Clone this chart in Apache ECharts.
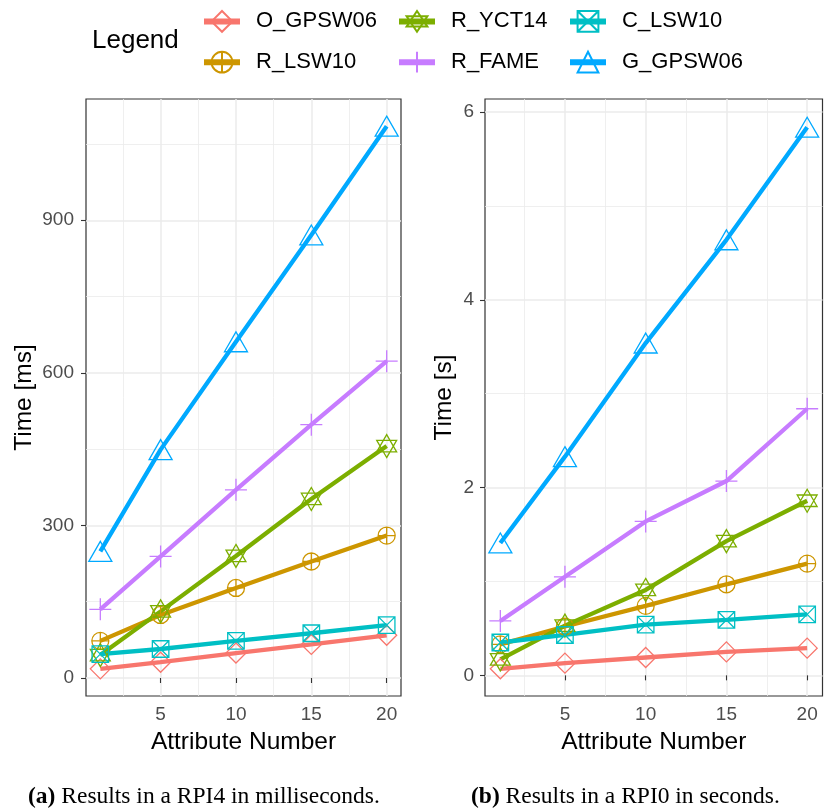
<!DOCTYPE html>
<html><head><meta charset="utf-8">
<script src="https://cdn.jsdelivr.net/npm/echarts@6/dist/echarts.min.js"></script>
<style>html,body{margin:0;padding:0;background:#fff}#c{width:824px;height:810px}</style>
</head><body><div id="c"></div>
<script>
// ---- data ----
const attributeNumbers = [1, 5, 10, 15, 20];
const seriesNames = ['O_GPSW06', 'R_LSW10', 'R_YCT14', 'R_FAME', 'C_LSW10', 'G_GPSW06'];
// (a) RPI4, milliseconds
const rpi4_O_GPSW06 = [18, 31, 49, 66, 84];
const rpi4_R_LSW10  = [73, 124, 177, 229, 280];
const rpi4_R_YCT14  = [45, 131, 240, 352, 456];
const rpi4_R_FAME   = [135, 239, 370, 498, 623];
const rpi4_C_LSW10  = [47, 57, 73, 88, 104];
const rpi4_G_GPSW06 = [249, 449, 661, 871, 1085];
// (b) RPI0, seconds
const rpi0_O_GPSW06 = [0.07, 0.13, 0.19, 0.25, 0.29];
const rpi0_R_LSW10  = [0.33, 0.52, 0.74, 0.97, 1.19];
const rpi0_R_YCT14  = [0.17, 0.53, 0.91, 1.43, 1.86];
const rpi0_R_FAME   = [0.58, 1.05, 1.64, 2.07, 2.84];
const rpi0_C_LSW10  = [0.35, 0.43, 0.54, 0.59, 0.65];
const rpi0_G_GPSW06 = [1.41, 2.33, 3.54, 4.64, 5.84];
// tick labels
const xTicks = [5, 10, 15, 20];
const yTicksMs = [0, 300, 600, 900];
const yTicksS = [0, 2, 4, 6];

const rpi4 = {O_GPSW06: rpi4_O_GPSW06, R_LSW10: rpi4_R_LSW10, R_YCT14: rpi4_R_YCT14, R_FAME: rpi4_R_FAME, C_LSW10: rpi4_C_LSW10, G_GPSW06: rpi4_G_GPSW06};
const rpi0 = {O_GPSW06: rpi0_O_GPSW06, R_LSW10: rpi0_R_LSW10, R_YCT14: rpi0_R_YCT14, R_FAME: rpi0_R_FAME, C_LSW10: rpi0_C_LSW10, G_GPSW06: rpi0_G_GPSW06};

// ---- styles ----
const FONT = 'Liberation Sans';
const style = {
  O_GPSW06: {color: '#F8766D', symbol: 'path://M0,-1L1,0L0,1L-1,0Z', size: 20},
  R_LSW10:  {color: '#CD9600', symbol: 'path://M-1,0A1,1,0,1,1,1,0A1,1,0,1,1,-1,0ZM-1,0L1,0M0,-1L0,1', size: 17},
  R_YCT14:  {color: '#7CAE00', symbol: 'path://M0,-1L0.866,0.5L-0.866,0.5ZM0,1L0.866,-0.5L-0.866,-0.5Z', size: 23},
  R_FAME:   {color: '#C77CFF', symbol: 'path://M-1,0L1,0M0,-1L0,1', size: 22},
  C_LSW10:  {color: '#00BFC4', symbol: 'path://M-1,-1L1,-1L1,1L-1,1ZM-1,-1L1,1M1,-1L-1,1', size: 16.5},
  G_GPSW06: {color: '#00A9FF', symbol: 'path://M0,-1L0.866,0.5L-0.866,0.5Z', size: 23}
};

function makeSeries(panel, idx) {
  return seriesNames.map(n => ({
    name: n, type: 'line', xAxisIndex: idx, yAxisIndex: idx,
    data: attributeNumbers.map((x, i) => [x, panel[n][i]]),
    symbol: style[n].symbol, symbolSize: style[n].size, symbolKeepAspect: true,
    showSymbol: true,
    lineStyle: {color: style[n].color, width: 4.3},
    itemStyle: {color: 'rgba(0,0,0,0)', borderColor: style[n].color, borderWidth: 1.3},
    emphasis: {disabled: true},
    animation: false
  }));
}

function xAxis(gi) {
  return {
    type: 'value', gridIndex: gi, min: 0.05, max: 20.95, splitNumber: 4,
    axisLine: {show: false},
    axisTick: {show: true, length: 5, customValues: xTicks, lineStyle: {color: '#333', width: 1.1}},
    axisLabel: {customValues: xTicks, color: '#4D4D4D', fontSize: 19, fontFamily: FONT, margin: 9,
      formatter: v => xTicks.includes(v) ? String(v) : ''},
    splitLine: {show: true, lineStyle: {color: '#EBEBEB', width: 1.5}},
    minorTick: {show: false, splitNumber: 2},
    minorSplitLine: {show: true, lineStyle: {color: '#EBEBEB', width: 0.8}},
    name: 'Attribute Number', nameLocation: 'middle', nameGap: 34,
    nameTextStyle: {fontSize: 24.5, fontFamily: FONT, color: '#000'}
  };
}
function yAxis(gi, min, max, split, ticks, name, gap, margin) {
  return {
    type: 'value', gridIndex: gi, min: min, max: max, splitNumber: split,
    axisLine: {show: false},
    axisTick: {show: true, length: 5, customValues: ticks, lineStyle: {color: '#333', width: 1.1}},
    axisLabel: {customValues: ticks, color: '#4D4D4D', fontSize: 19, fontFamily: FONT, margin: margin,
      formatter: v => ticks.includes(v) ? String(v) : ''},
    splitLine: {show: true, lineStyle: {color: '#EBEBEB', width: 1.5}},
    minorTick: {show: false, splitNumber: 2},
    minorSplitLine: {show: true, lineStyle: {color: '#EBEBEB', width: 0.8}},
    name: name, nameLocation: 'middle', nameGap: gap, nameRotate: 90,
    nameTextStyle: {fontSize: 24.5, fontFamily: FONT, color: '#000'}
  };
}

function legend(items, left) {
  return {
    data: items, orient: 'vertical', left: left, top: 10, padding: 0,
    itemWidth: 36, itemHeight: 26, itemGap: 18, selectedMode: false,
    lineStyle: {width: 6},
    textStyle: {fontSize: 22, fontFamily: FONT, color: '#000', padding: [0, 0, 0, 11]}
  };
}

const captionStyle = {fontFamily: 'Liberation Serif', fontSize: 23.5, fontWeight: 'normal', color: '#000',
  rich: {b: {fontFamily: 'Liberation Serif', fontSize: 23.5, fontWeight: 'bold', color: '#000'}}};

const chart = echarts.init(document.getElementById('c'), null, {renderer: 'canvas'});
chart.setOption({
  animation: false,
  backgroundColor: '#fff',
  title: [
    {text: 'Legend', left: 92, top: 28, padding: 0, textStyle: {fontFamily: FONT, fontSize: 26, fontWeight: 'normal', color: '#000'}},
    {text: '{b|(a)} Results in a RPI4 in milliseconds.', left: 28, top: 785, padding: 0, textStyle: captionStyle},
    {text: '{b|(b)} Results in a RPI0 in seconds.', left: 471, top: 785, padding: 0, textStyle: captionStyle}
  ],
  legend: [
    legend(['O_GPSW06', 'R_LSW10'], 201),
    legend(['R_YCT14', 'R_FAME'], 396),
    legend(['C_LSW10', 'G_GPSW06'], 567)
  ],
  grid: [
    {left: 86, top: 99, width: 315, height: 597, show: true, borderColor: '#333', borderWidth: 1.2, backgroundColor: '#fff', outerBoundsMode: 'none'},
    {left: 485, top: 99, width: 337.5, height: 597, show: true, borderColor: '#333', borderWidth: 1.2, backgroundColor: '#fff', outerBoundsMode: 'none'}
  ],
  xAxis: [xAxis(0), xAxis(1)],
  yAxis: [
    yAxis(0, -35.4, 1138.4, 4, yTicksMs, 'Time [ms]', 49, 12),
    yAxis(1, -0.22, 6.14, 3, yTicksS, 'Time [s]', 28, 11)
  ],
  series: makeSeries(rpi4, 0).concat(makeSeries(rpi0, 1))
});
</script>
</body></html>
